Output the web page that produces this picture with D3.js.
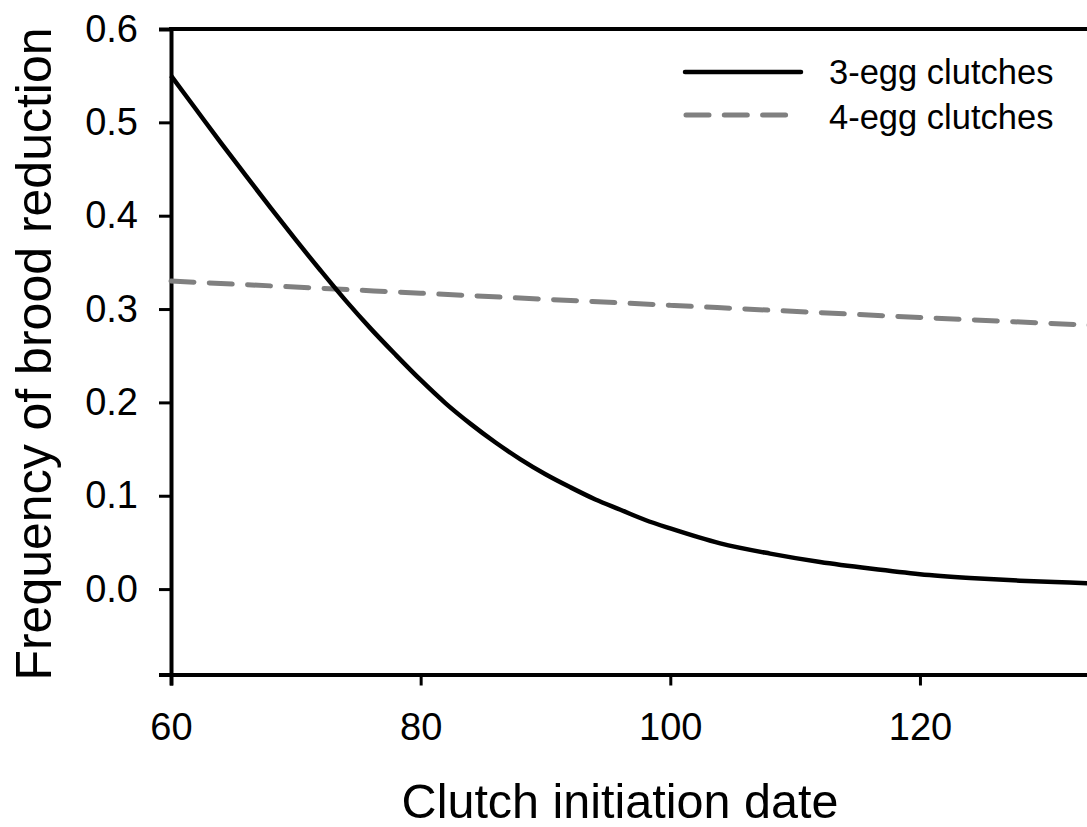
<!DOCTYPE html>
<html>
<head>
<meta charset="utf-8">
<script src="https://cdn.jsdelivr.net/npm/d3@7"></script>
<style>
  html, body { margin: 0; padding: 0; background: #fff; }
  svg { display: block; font-family: "Liberation Sans", Arial, Helvetica, sans-serif; }
</style>
</head>
<body>
<svg id="chart" width="1087" height="827"></svg>
<script>
// ---- data ----
const dates3 = [60, 62, 64, 66, 68, 70, 72, 74, 76, 78, 80, 82, 84, 86, 88, 90, 92, 94, 96, 98, 100, 104, 108, 112, 116, 120, 124, 128, 132, 136, 140];
const freq3  = [0.550, 0.514, 0.478, 0.443, 0.408, 0.374, 0.341, 0.309, 0.279, 0.251, 0.224, 0.199, 0.177, 0.157, 0.139, 0.123, 0.109, 0.096, 0.085, 0.074, 0.065, 0.049, 0.038, 0.029, 0.022, 0.016, 0.012, 0.009, 0.007, 0.005, 0.004];
const dates4 = [60, 80, 100, 120, 140];
const freq4  = [0.330, 0.317, 0.304, 0.291, 0.279];
const xTicks = [60, 80, 100, 120];
const yTicks = [0.0, 0.1, 0.2, 0.3, 0.4, 0.5, 0.6];
const seriesNames = ["3-egg clutches", "4-egg clutches"];
const xTitle = "Clutch initiation date";
const yTitle = "Frequency of brood reduction";

// ---- layout ----
const svg = d3.select("#chart");
const x = d3.scaleLinear().domain([60, 140]).range([171, 1169.6]);
const y = d3.scaleLinear().domain([-0.0915, 0.6]).range([674.5, 29]);

const font = "'Liberation Sans', Arial, sans-serif";

// y axis
const yAxis = svg.append("g")
  .attr("transform", `translate(${x(60)},0)`)
  .call(d3.axisLeft(y).tickValues(yTicks).tickFormat(d3.format(".1f")).tickSizeOuter(0).tickSize(12).tickPadding(21));
yAxis.select(".domain").attr("stroke", "#000").attr("stroke-width", 4);
yAxis.selectAll(".tick line").attr("stroke", "#000").attr("stroke-width", 3);
yAxis.selectAll(".tick text").attr("font-size", 38).attr("font-family", font).attr("fill", "#000");

// x axis
const xAxis = svg.append("g")
  .attr("transform", `translate(0,${y(-0.0915)})`)
  .call(d3.axisBottom(x).tickValues(xTicks).tickFormat(d3.format("d")).tickSizeOuter(0).tickSize(11).tickPadding(28));
xAxis.select(".domain").attr("stroke", "#000").attr("stroke-width", 4);
xAxis.selectAll(".tick line").attr("stroke", "#000").attr("stroke-width", 3);
xAxis.selectAll(".tick text").attr("font-size", 38).attr("font-family", font).attr("fill", "#000");

// top frame line
svg.append("line")
  .attr("x1", x(60) - 2).attr("x2", x(140))
  .attr("y1", y(0.6)).attr("y2", y(0.6))
  .attr("stroke", "#000").attr("stroke-width", 4);

// lines
const line = d3.line().x(d => x(d[0])).y(d => y(d[1])).curve(d3.curveMonotoneX);

svg.append("path")
  .datum(dates4.map((d, i) => [d, freq4[i]]))
  .attr("d", line)
  .attr("fill", "none")
  .attr("stroke", "#808080")
  .attr("stroke-width", 5)
  .attr("stroke-linecap", "round")
  .attr("stroke-dasharray", "23,15.3");

svg.append("path")
  .datum(dates3.map((d, i) => [d, freq3[i]]))
  .attr("d", line)
  .attr("fill", "none")
  .attr("stroke", "#000")
  .attr("stroke-width", 4.5)
  .attr("stroke-linejoin", "round");

// legend
const leg = svg.append("g");
leg.append("line").attr("x1", 685).attr("x2", 801).attr("y1", 72).attr("y2", 72)
  .attr("stroke", "#000").attr("stroke-width", 4.5).attr("stroke-linecap", "round");
leg.append("line").attr("x1", 686).attr("x2", 790).attr("y1", 115).attr("y2", 115)
  .attr("stroke", "#808080").attr("stroke-width", 5).attr("stroke-linecap", "round")
  .attr("stroke-dasharray", "23,15.3");
leg.selectAll("text.lg").data(seriesNames).enter().append("text")
  .attr("class", "lg")
  .attr("x", 829).attr("y", (d, i) => 84 + i * 45)
  .attr("font-size", 34.5).attr("font-family", font).attr("fill", "#000")
  .text(d => d);

// axis titles
svg.append("text")
  .attr("x", 620).attr("y", 818)
  .attr("text-anchor", "middle")
  .attr("font-size", 48.5).attr("font-family", font).attr("fill", "#000")
  .text(xTitle);

svg.append("text")
  .attr("transform", "translate(51,354) rotate(-90)")
  .attr("text-anchor", "middle")
  .attr("font-size", 50).attr("font-family", font).attr("fill", "#000")
  .text(yTitle);
</script>
</body>
</html>
